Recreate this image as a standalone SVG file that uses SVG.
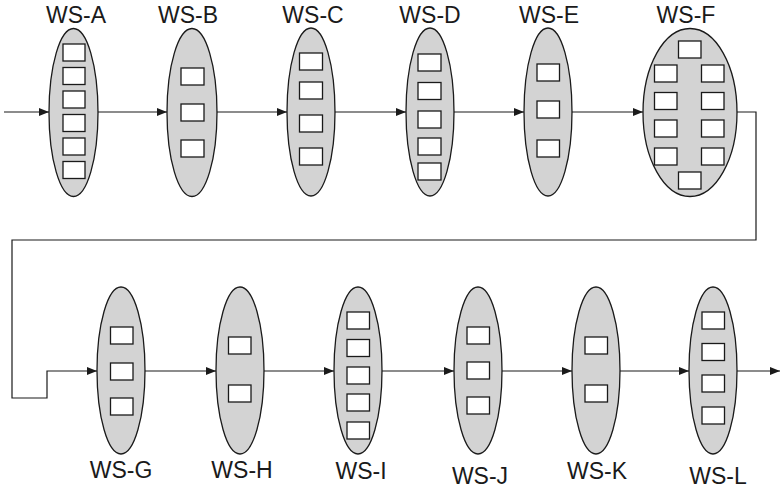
<svg xmlns="http://www.w3.org/2000/svg" width="780" height="489" viewBox="0 0 780 489">
  <defs>
    <marker id="arrow" viewBox="0 0 10 8" refX="10" refY="4" markerWidth="10" markerHeight="8" markerUnits="userSpaceOnUse" orient="auto">
      <path d="M0,0 L10,4 L0,8 Z" fill="#1a1a1a"/>
    </marker>
    <style>
      .ws { fill: #d3d3d3; stroke: #1a1a1a; stroke-width: 1.3; }
      .slot { fill: #ffffff; stroke: #1a1a1a; stroke-width: 1.3; }
      .flow { fill: none; stroke: #1a1a1a; stroke-width: 1.2; }
      .label { font-family: "Liberation Sans", Arial, sans-serif; font-size: 23px; fill: #1a1a1a; text-anchor: middle; }
    </style>
  </defs>
  <rect width="780" height="489" fill="#ffffff"/>

  <!-- connectors -->
  <g id="connectors">
    <line class="flow" x1="4" y1="112" x2="49" y2="112" marker-end="url(#arrow)"/>
    <line class="flow" x1="98" y1="112" x2="167" y2="112" marker-end="url(#arrow)"/>
    <line class="flow" x1="217" y1="112" x2="287" y2="112" marker-end="url(#arrow)"/>
    <line class="flow" x1="335" y1="112" x2="406" y2="112" marker-end="url(#arrow)"/>
    <line class="flow" x1="454" y1="112" x2="524" y2="112" marker-end="url(#arrow)"/>
    <line class="flow" x1="572" y1="112" x2="643" y2="112" marker-end="url(#arrow)"/>
    <polyline class="flow" points="737,112 756,112 756,240 12,240 12,398 47,398 47,371 97,371" marker-end="url(#arrow)"/>
    <line class="flow" x1="145" y1="371" x2="216" y2="371" marker-end="url(#arrow)"/>
    <line class="flow" x1="264" y1="371" x2="334" y2="371" marker-end="url(#arrow)"/>
    <line class="flow" x1="382" y1="371" x2="454" y2="371" marker-end="url(#arrow)"/>
    <line class="flow" x1="502" y1="371" x2="572" y2="371" marker-end="url(#arrow)"/>
    <line class="flow" x1="620" y1="371" x2="689" y2="371" marker-end="url(#arrow)"/>
    <line class="flow" x1="737" y1="371" x2="780" y2="371" marker-end="url(#arrow)"/>
  </g>

  <!-- workstations, top row -->
  <g id="ws-a">
    <ellipse class="ws" cx="73.5" cy="112.5" rx="24.5" ry="84"/>
    <rect class="slot" x="63" y="44" width="22" height="17"/>
    <rect class="slot" x="63" y="67.5" width="22" height="17"/>
    <rect class="slot" x="63" y="91" width="22" height="17"/>
    <rect class="slot" x="63" y="114.5" width="22" height="17"/>
    <rect class="slot" x="63" y="138" width="22" height="17"/>
    <rect class="slot" x="63" y="161.5" width="22" height="17"/>
    <text class="label" x="76" y="23">WS-A</text>
  </g>
  <g id="ws-b">
    <ellipse class="ws" cx="192" cy="112.5" rx="25" ry="84"/>
    <rect class="slot" x="181" y="68" width="23" height="17"/>
    <rect class="slot" x="181" y="104" width="23" height="17"/>
    <rect class="slot" x="181" y="140" width="23" height="17"/>
    <text class="label" x="188" y="23">WS-B</text>
  </g>
  <g id="ws-c">
    <ellipse class="ws" cx="311" cy="112" rx="24" ry="84"/>
    <rect class="slot" x="299.5" y="53" width="23" height="17"/>
    <rect class="slot" x="299.5" y="82" width="23" height="17"/>
    <rect class="slot" x="299.5" y="115" width="23" height="17"/>
    <rect class="slot" x="299.5" y="148" width="23" height="17"/>
    <text class="label" x="313" y="23">WS-C</text>
  </g>
  <g id="ws-d">
    <ellipse class="ws" cx="430" cy="112" rx="24" ry="84"/>
    <rect class="slot" x="418" y="54" width="23" height="17"/>
    <rect class="slot" x="418" y="82.5" width="23" height="17"/>
    <rect class="slot" x="418" y="111" width="23" height="17"/>
    <rect class="slot" x="418" y="138" width="23" height="17"/>
    <rect class="slot" x="418" y="163" width="23" height="17"/>
    <text class="label" x="430" y="23">WS-D</text>
  </g>
  <g id="ws-e">
    <ellipse class="ws" cx="548" cy="112" rx="24" ry="84"/>
    <rect class="slot" x="537" y="64" width="22.5" height="17"/>
    <rect class="slot" x="537" y="101" width="22.5" height="17"/>
    <rect class="slot" x="537" y="140" width="22.5" height="17"/>
    <text class="label" x="549" y="23">WS-E</text>
  </g>
  <g id="ws-f">
    <ellipse class="ws" cx="690" cy="112.5" rx="47" ry="84"/>
    <rect class="slot" x="678.5" y="41" width="22.5" height="17"/>
    <rect class="slot" x="654.5" y="65" width="22.5" height="17"/>
    <rect class="slot" x="701.5" y="65" width="22.5" height="17"/>
    <rect class="slot" x="654.5" y="92.5" width="22.5" height="17"/>
    <rect class="slot" x="701.5" y="92.5" width="22.5" height="17"/>
    <rect class="slot" x="654.5" y="120" width="22.5" height="17"/>
    <rect class="slot" x="701.5" y="120" width="22.5" height="17"/>
    <rect class="slot" x="654.5" y="148" width="22.5" height="17"/>
    <rect class="slot" x="701.5" y="148" width="22.5" height="17"/>
    <rect class="slot" x="678.5" y="172" width="22.5" height="17"/>
    <text class="label" x="686" y="23">WS-F</text>
  </g>

  <!-- workstations, bottom row -->
  <g id="ws-g">
    <ellipse class="ws" cx="121" cy="370.5" rx="24" ry="83.5"/>
    <rect class="slot" x="110.5" y="327" width="22.5" height="17"/>
    <rect class="slot" x="110.5" y="363" width="22.5" height="17"/>
    <rect class="slot" x="110.5" y="398" width="22.5" height="17"/>
    <text class="label" x="121" y="478">WS-G</text>
  </g>
  <g id="ws-h">
    <ellipse class="ws" cx="240" cy="370.5" rx="24" ry="83.5"/>
    <rect class="slot" x="228.5" y="337" width="22.5" height="17"/>
    <rect class="slot" x="228.5" y="385" width="22.5" height="17"/>
    <text class="label" x="242" y="478">WS-H</text>
  </g>
  <g id="ws-i">
    <ellipse class="ws" cx="358" cy="370.5" rx="24" ry="83.5"/>
    <rect class="slot" x="347" y="312" width="22.5" height="17"/>
    <rect class="slot" x="347" y="339.5" width="22.5" height="17"/>
    <rect class="slot" x="347" y="367" width="22.5" height="17"/>
    <rect class="slot" x="347" y="394" width="22.5" height="17"/>
    <rect class="slot" x="347" y="422" width="22.5" height="17"/>
    <text class="label" x="361" y="479">WS-I</text>
  </g>
  <g id="ws-j">
    <ellipse class="ws" cx="478" cy="370.5" rx="24" ry="83.5"/>
    <rect class="slot" x="467" y="327" width="22.5" height="17"/>
    <rect class="slot" x="467" y="362" width="22.5" height="17"/>
    <rect class="slot" x="467" y="397" width="22.5" height="17"/>
    <text class="label" x="480" y="484">WS-J</text>
  </g>
  <g id="ws-k">
    <ellipse class="ws" cx="596" cy="370.5" rx="24" ry="83.5"/>
    <rect class="slot" x="585" y="337" width="22.5" height="17"/>
    <rect class="slot" x="585" y="385" width="22.5" height="17"/>
    <text class="label" x="597" y="479">WS-K</text>
  </g>
  <g id="ws-l">
    <ellipse class="ws" cx="713" cy="370.5" rx="24" ry="83.5"/>
    <rect class="slot" x="702" y="312" width="22.5" height="17"/>
    <rect class="slot" x="702" y="343.5" width="22.5" height="17"/>
    <rect class="slot" x="702" y="375" width="22.5" height="17"/>
    <rect class="slot" x="702" y="407" width="22.5" height="17"/>
    <text class="label" x="718" y="484">WS-L</text>
  </g>
</svg>
